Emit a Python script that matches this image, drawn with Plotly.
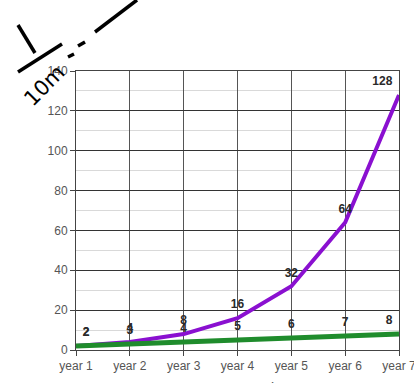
import plotly.graph_objects as go

categories = ["year 1", "year 2", "year 3", "year 4", "year 5", "year 6", "year 7"]
exponential = [2, 4, 8, 16, 32, 64, 128]
linear = [2, 3, 4, 5, 6, 7, 8]
y_ticks = [0, 20, 40, 60, 80, 100, 120, 140]

x = list(range(len(categories)))

W, H = 414, 383
L, R, T, B = 76, 15, 71, 33


def px(xp):
    return (xp - L) / (W - L - R)


def py(yp):
    return (H - B - yp) / (H - T - B)


positions = ["top right"] + ["top center"] * (len(categories) - 2) + ["top left"]

fig = go.Figure()
label_font = dict(family="Liberation Sans", size=12, color="#2a2a2a", weight="bold")
hidden_marker = dict(size=9, opacity=0)
fig.add_trace(go.Scatter(
    x=x, y=exponential, mode="lines+markers+text",
    text=[str(v) for v in exponential], textposition=positions,
    textfont=label_font, marker=hidden_marker,
    line=dict(color="#8a10d0", width=4), cliponaxis=False, showlegend=False,
    hoverinfo="skip",
))
fig.add_trace(go.Scatter(
    x=x, y=linear, mode="lines+markers+text",
    text=[str(v) for v in linear], textposition=positions,
    textfont=label_font, marker=hidden_marker,
    line=dict(color="#1f8c2c", width=5), cliponaxis=False, showlegend=False,
    hoverinfo="skip",
))

fig.update_layout(
    width=W, height=H,
    margin=dict(l=L, r=R, t=T, b=B, autoexpand=False),
    paper_bgcolor="white", plot_bgcolor="white",
    font=dict(family="Liberation Sans", size=12, color="#555555"),
    xaxis=dict(
        range=[0, 6], tickmode="array", tickvals=x, ticktext=categories,
        showgrid=True, gridcolor="#555555", gridwidth=1,
        ticks="outside", ticklen=5, tickcolor="#444444",
        showline=True, linecolor="#444444", linewidth=1, zeroline=False,
        mirror=True, ticklabeloverflow="allow", automargin=False,
    ),
    yaxis=dict(
        range=[0, 140], tickmode="array", tickvals=y_ticks,
        showgrid=True, gridcolor="#333333", gridwidth=1,
        ticks="outside", ticklen=5, tickcolor="#444444",
        showline=True, linecolor="#444444", linewidth=1, zeroline=False,
        mirror=True, automargin=False,
        minor=dict(dtick=10, showgrid=True, gridcolor="#d9d9d9", gridwidth=1),
    ),
)

# partially visible x-axis title (cut off at bottom, as in the reference)
fig.add_annotation(text="Time", xref="paper", yref="paper", x=px(278), y=py(378),
                   xanchor="center", yanchor="top", showarrow=False,
                   font=dict(family="Liberation Sans", size=14, color="#555555"))

# handwritten note in the top-left corner
ink = dict(color="black", width=3.5)
fig.add_shape(type="line", xref="paper", yref="paper",
              x0=px(18), y0=py(25), x1=px(35), y1=py(53), line=ink)
fig.add_shape(type="line", xref="paper", yref="paper",
              x0=px(18), y0=py(72), x1=px(62), y1=py(44), line=ink)
fig.add_annotation(text="10m", xref="paper", yref="paper", x=px(44), y=py(86),
                   xanchor="center", yanchor="middle",
                   showarrow=False, textangle=-45,
                   font=dict(family="DejaVu Sans", size=21, color="black"))
fig.add_shape(type="line", xref="paper", yref="paper",
              x0=px(68), y0=py(57), x1=px(74), y1=py(54), line=ink)
fig.add_shape(type="line", xref="paper", yref="paper",
              x0=px(78), y0=py(46), x1=px(85), y1=py(42), line=ink)
fig.add_shape(type="line", xref="paper", yref="paper",
              x0=px(95), y0=py(32), x1=px(137), y1=py(0), line=ink)

fig.write_html("out.html")
